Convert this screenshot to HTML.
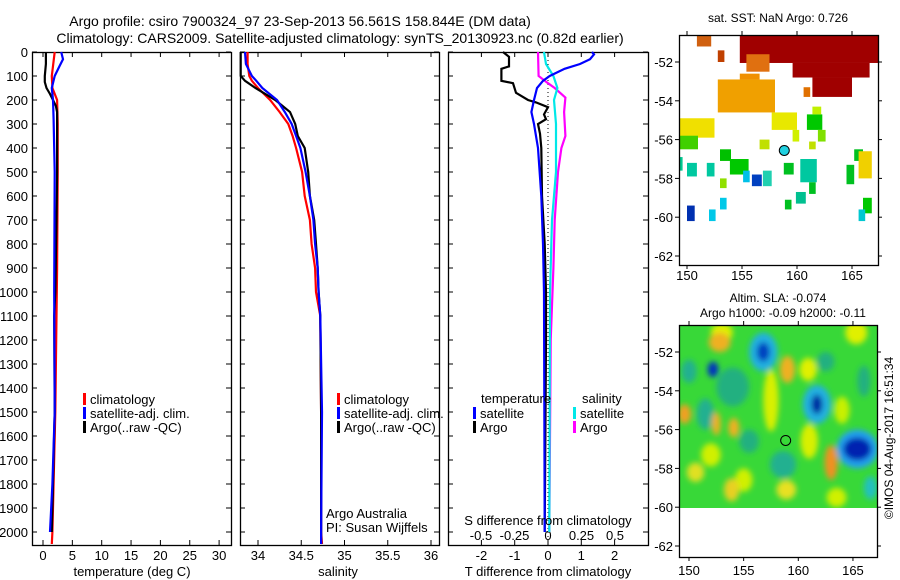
<!DOCTYPE html>
<html><head><meta charset="utf-8">
<style>
html,body{margin:0;padding:0;background:#fff;}
svg{display:block;font-family:"Liberation Sans",sans-serif;}
text{fill:#000;}
</style></head>
<body>
<svg id="chart" width="900" height="580" viewBox="0 0 900 580" xmlns="http://www.w3.org/2000/svg">
<defs>
<filter id="blur" x="-50%" y="-50%" width="200%" height="200%"><feGaussianBlur stdDeviation="3"/></filter>
<clipPath id="slaclip"><rect x="679" y="325" width="198" height="183"/></clipPath>
<clipPath id="sstclip"><rect x="679" y="35" width="199" height="230"/></clipPath>
</defs>
<text x="300" y="26" font-size="14" text-anchor="middle">Argo profile: csiro 7900324_97 23-Sep-2013 56.561S 158.844E (DM data)</text>
<text x="340" y="43" font-size="14" text-anchor="middle">Climatology: CARS2009. Satellite-adjusted climatology: synTS_20130923.nc (0.82d earlier)</text>
<g id="g"></g>
</svg>
<script>
// ---- profile data (depth in m) ----
const depthsArgoT = [0,50,100,125,150,175,200,225,250,300,400,500,700,1000,1100,1500,2000];
const argoTemp    = [0.5,0.5,0.3,0.3,0.6,1.2,1.7,2.2,2.4,2.4,2.4,2.4,2.3,2.1,1.9,2.0,1.5];
const depthsClimT = [0,100,150,200,300,500,900,1500,2000,2050];
const climTemp    = [2.0,1.5,1.6,2.4,2.5,2.5,2.4,2.1,1.6,1.5];
const depthsSatT  = [0,30,60,100,150,200,280,500,1000,1500,1800,2000];
const satTemp     = [3.1,3.4,2.8,2.0,1.5,1.7,1.8,2.0,1.9,2.0,1.6,1.2];

const depthsS  = [0,50,100,120,150,200,250,300,350,400,500,600,700,800,900,1000,1100,1500,2000,2050];
const argoSal  = [33.80,33.80,33.80,33.85,33.97,34.20,34.37,34.43,34.46,34.54,34.58,34.60,34.65,34.67,34.69,34.70,34.72,34.73,34.73,34.73];
const climSal  = [33.88,33.88,33.90,33.93,34.00,34.14,34.25,34.35,34.40,34.44,34.51,34.54,34.60,34.62,34.66,34.67,34.72,34.73,34.73,34.74];
const satSal   = [33.85,33.86,33.93,33.98,34.05,34.22,34.31,34.39,34.44,34.49,34.55,34.60,34.64,34.66,34.69,34.70,34.72,34.74,34.73,34.73];

const depthsDT = [0,20,60,70,120,130,170,200,210,230,260,280,300,340,400,600,800,1000,1200,2000];
const argoDT   = [-1.35,-1.17,-1.17,-1.4,-1.4,-1.05,-0.96,-0.6,-0.36,0,-0.12,-0.06,-0.3,-0.24,-0.2,-0.18,-0.1,-0.06,-0.06,-0.1];
const depthsSatDT = [0,10,30,50,70,100,120,150,200,250,300,400,600,800,1000,2000];
const satDT       = [1.32,1.38,1.26,0.96,0.5,0.05,-0.15,-0.33,-0.42,-0.5,-0.42,-0.3,-0.2,-0.15,-0.12,-0.1];
const depthsDS = [0,100,130,150,190,250,350,400,500,700,900,1200,2000];
const argoDS   = [-0.075,-0.07,0,0.05,0.13,0.12,0.13,0.10,0.075,0.05,0.04,0.02,0.01];
const depthsSatDS = [0,50,100,150,200,300,500,700,1000,2000];
const satDS       = [-0.03,-0.015,0.04,0.07,0.045,0.06,0.06,0.03,0.015,0.01];

const depthTicks = [0,100,200,300,400,500,600,700,800,900,1000,1100,1200,1300,1400,1500,1600,1700,1800,1900,2000];
const tempTicks = [0,5,10,15,20,25,30];
const salTicks = [34,34.5,35,35.5,36];
const salTickLabels = ["34","34.5","35","35.5","36"];
const dtTicks = [-2,-1,0,1,2];
const dsTicks = [-0.5,-0.25,0,0.25,0.5];
const lonTicks = [150,155,160,165];
const latTicks = [-52,-54,-56,-58,-60,-62];

// SST patches
const sstLon0 = [154.8,159.6,161.4,150.9,152.8,152.8,154.8,155.4,157.7,149.2,149.3,160.9,153.0,153.9,150.0,151.8,156.9,160.3,159.9,155.9,155.1,153.0,152.0,150.0,158.8,161.1,158.9,165.2,164.5,165.6,166.0,165.6,156.6,159.6,161.1,161.4,161.9,153.0,160.6,149.27];
const sstLon1 = [167.4,166.6,165.0,152.2,153.4,158.0,156.6,157.5,160.0,152.5,151.0,162.3,154.0,155.6,150.9,152.5,157.7,161.8,160.8,156.8,155.7,153.6,152.6,150.7,159.7,161.7,159.5,166.0,165.2,166.8,166.8,166.2,157.5,160.2,161.7,162.2,162.6,153.6,161.2,149.6];
const sstLat0 = [-50.6,-52.05,-52.8,-50.6,-51.4,-52.9,-52.6,-51.6,-54.6,-54.9,-55.8,-54.7,-56.5,-57.0,-57.2,-57.2,-57.6,-57.0,-58.7,-57.8,-57.6,-59.0,-59.6,-59.4,-57.2,-58.2,-59.1,-56.5,-57.3,-56.6,-59.0,-59.6,-56.0,-55.5,-56.1,-54.3,-55.5,-58.0,-53.3,-56.9];
const sstLat1 = [-52.05,-52.8,-53.8,-51.2,-52.0,-54.6,-52.9,-52.5,-55.5,-55.9,-56.5,-55.5,-57.1,-57.8,-57.9,-57.9,-58.4,-58.2,-59.3,-58.4,-58.2,-59.6,-60.2,-60.2,-57.8,-58.8,-59.6,-57.1,-58.3,-58.0,-59.8,-60.2,-56.5,-56.1,-56.5,-54.7,-56.1,-58.5,-53.8,-57.6];
const sstCol  = ["#a00000","#a00000","#a00000","#d06010","#c04000","#f0a000","#f09000","#e07010","#e8e800","#f0e000","#40d000","#00c800","#00c000","#00c800","#00c8a0","#00c8a0","#20d0b0","#00c8a0","#00c090","#0040c0","#00c0e8","#00c8e8","#00c8e8","#0030b0","#00c020","#00c020","#00c020","#00c020","#00c020","#f0d000","#00c800","#00c8d0","#c0e000","#d0f000","#c0e000","#c0f000","#80e000","#90e000","#e07000","#00c890"];

// SLA blobs
const slaLon = [154.0,151.5,150.0,158.6,157.5,161.0,164.0,152.0,155.0,163.5,153.0,166.0,152.8,159.0,149.6,163.0,152.5,154.1,150.6,153.9,158.9,165.3,160.9,166.6,156.8,156.8,152.2,161.7,161.7,165.4,165.4,155.5,162.5];
const slaLat = [-53.8,-55.2,-53.0,-57.8,-54.5,-56.6,-55.0,-57.3,-58.6,-59.5,-51.0,-53.5,-51.5,-52.9,-55.2,-57.7,-55.7,-55.9,-58.2,-59.1,-59.1,-51.0,-52.9,-59.0,-52.0,-52.0,-52.9,-54.7,-54.7,-57.0,-57.0,-56.6,-52.5];
const slaRLon = [1.5,0.8,0.7,1.2,0.7,0.8,0.7,0.9,0.8,0.9,1.0,0.6,1.0,0.7,0.6,0.6,0.4,0.5,0.8,0.7,0.9,1.0,0.8,0.6,1.3,0.6,0.5,1.3,0.5,1.9,1.3,0.9,0.8];
const slaRLat = [1.0,0.8,0.6,0.7,1.6,0.9,0.7,0.6,0.6,0.5,0.5,0.8,0.5,0.7,0.5,0.9,0.6,0.5,0.5,0.6,0.5,0.6,0.6,0.6,1.0,0.5,0.4,1.0,0.5,1.0,0.6,0.6,0.5];
const slaCol = ["#20b080","#20b090","#20b090","#20b090","#d8f000","#d8f000","#c8f000","#d0f000","#d0f000","#d0f000","#e0f000","#20b080","#f0b020","#f0b020","#f0a020","#f09020","#f0b020","#f0b020","#e0e020","#e8d020","#e8e020","#e0f000","#e0f000","#20c0c0","#20b0e0","#0040c0","#0030c0","#20b0e0","#0020a0","#20a0f0","#0020b0","#20b080","#20b080"];

const argoLon = 158.844, argoLat = -56.561;

const NS = "http://www.w3.org/2000/svg";
const G = document.getElementById('g');
function mk(tag, attrs, parent){const e=document.createElementNS(NS,tag);for(const k in attrs)e.setAttribute(k,attrs[k]);(parent||G).appendChild(e);return e;}
function txt(x,y,s,size,anchor,parent){const t=mk('text',{x:x,y:y,'font-size':size||13,'text-anchor':anchor||'start'},parent);t.textContent=s;return t;}

const yD = d => 52 + d*0.24;
const xT = v => 43 + v*5.87;
const xS = v => 258 + (v-34)*86.5;
const xDT = v => 548 + v*33.3;
const xDS = v => 548 + v*134;
const xLon = v => 687 + (v-150)*11;
const xLon2 = v => 689 + (v-150)*10.93;
const yLat = v => 62 - (v+52)*19.4;
const yLat2 = v => 352 - (v+52)*19.4;

const panels = [{x0:32,x1:231,name:'temperature-panel'},{x0:240,x1:439,name:'salinity-panel'},{x0:448,x1:648,name:'difference-panel'}];
panels.forEach((p,i)=>{
  const r = mk('rect',{x:p.x0+0.5,y:52.5,width:p.x1-p.x0,height:493,fill:'none',stroke:'#000','stroke-width':1.3});
  
  
  depthTicks.forEach(d=>{
    mk('line',{x1:p.x0,x2:p.x0+5,y1:yD(d),y2:yD(d),stroke:'#000'});
    mk('line',{x1:p.x1-5,x2:p.x1,y1:yD(d),y2:yD(d),stroke:'#000'});
  });
});
depthTicks.forEach(d=>{
  const t=txt(28,yD(d)+5,String(d),13,'end');
  
  
});
function xticks(vals,f,labels,ly){
  vals.forEach((v,i)=>{
    const x=f(v);
    mk('line',{x1:x,x2:x,y1:52,y2:57,stroke:'#000'});
    mk('line',{x1:x,x2:x,y1:540,y2:545,stroke:'#000'});
    if(labels){const t=txt(x,ly,labels[i],13,'middle');
      
      }
  });
}
xticks(tempTicks,xT,tempTicks.map(String),560);
xticks(salTicks,xS,salTickLabels,560);
xticks(dtTicks,xDT,dtTicks.map(String),560);
dsTicks.forEach(v=>{const t=txt(xDS(v),540,String(v),13,'middle');
  
  });

const z=mk('line',{x1:xDT(0),x2:xDT(0),y1:52,y2:545,stroke:'#000','stroke-dasharray':'1,3'});



function prof(ds,vs,fx,col,name){
  const pts=ds.map((d,i)=>fx(vs[i]).toFixed(1)+','+yD(d).toFixed(1)).join(' ');
  const l=mk('polyline',{points:pts,fill:'none',stroke:col,'stroke-width':2.2,'stroke-linejoin':'miter'});
  
  
}
prof(depthsClimT,climTemp,xT,'#ff0000','temp-climatology-line');
prof(depthsArgoT,argoTemp,xT,'#000','temp-argo-line');
prof(depthsSatT,satTemp,xT,'#0000ff','temp-satellite-line');
prof(depthsS,climSal,xS,'#ff0000','sal-climatology-line');
prof(depthsS,argoSal,xS,'#000','sal-argo-line');
prof(depthsS,satSal,xS,'#0000ff','sal-satellite-line');
prof(depthsDS,argoDS,xDS,'#ff00ff','sdiff-argo-line');
prof(depthsSatDS,satDS,xDS,'#00e8e8','sdiff-satellite-line');
prof(depthsDT,argoDT,xDT,'#000','tdiff-argo-line');
prof(depthsSatDT,satDT,xDT,'#0000ff','tdiff-satellite-line');

function legend(x,y,col,label,name){
  mk('rect',{x:x,y:y-10,width:3,height:12,fill:col});
  const t=txt(x+7,y+1,label,13);
  
  
}
legend(83,403,'#ff0000','climatology','legend-climatology');
legend(83,417,'#0000ff','satellite-adj. clim.','legend-satellite');
legend(83,431,'#000','Argo(..raw -QC)','legend-argo');
legend(337,403,'#ff0000','climatology','legend-climatology-2');
legend(337,417,'#0000ff','satellite-adj. clim.','legend-satellite-2');
legend(337,431,'#000','Argo(..raw -QC)','legend-argo-2');
txt(481,403,'temperature',13);
legend(473,417,'#0000ff','satellite','legend-t-satellite');
legend(473,431,'#000','Argo','legend-t-argo');
txt(582,403,'salinity',13);
legend(573,417,'#00e8e8','satellite','legend-s-satellite');
legend(573,431,'#ff00ff','Argo','legend-s-argo');
txt(326,518,'Argo Australia',13);
txt(326,532,'PI: Susan Wijffels',13);
txt(548,525,'S difference from climatology',13,'middle');
txt(132,576,'temperature (deg C)',13,'middle');
txt(338,576,'salinity',13,'middle');
txt(548,576,'T difference from climatology',13,'middle');

// SST map
txt(778,22,'sat. SST: NaN Argo: 0.726',12,'middle');
const sg=mk('g',{'clip-path':'url(#sstclip)'});


sstLon0.forEach((l0,i)=>{
  const x0=xLon(l0),x1=xLon(sstLon1[i]),y0=yLat(sstLat0[i]),y1=yLat(sstLat1[i]);
  const r=mk('rect',{x:x0,y:y0,width:x1-x0,height:y1-y0,fill:sstCol[i]},sg);
  
  
});
const c1=mk('circle',{cx:xLon(argoLon),cy:yLat(argoLat),r:5,fill:'#20d0e0',stroke:'#000','stroke-width':1});


mk('rect',{x:679.5,y:35.5,width:199,height:230,fill:'none',stroke:'#000','stroke-width':1.3});
lonTicks.forEach(v=>{mk('line',{x1:xLon(v),x2:xLon(v),y1:35,y2:31,stroke:'#000'});mk('line',{x1:xLon(v),x2:xLon(v),y1:265,y2:269,stroke:'#000'});
  const t=txt(xLon(v),280,String(v),13,'middle');
  
  });
latTicks.forEach(v=>{mk('line',{x1:675,x2:679,y1:yLat(v),y2:yLat(v),stroke:'#000'});mk('line',{x1:878,x2:882,y1:yLat(v),y2:yLat(v),stroke:'#000'});
  const t=txt(673,yLat(v)+5,String(v),13,'end');
  
  });

// SLA map
txt(778,302,'Altim. SLA: -0.074',12,'middle');
txt(783,317,'Argo h1000: -0.09 h2000: -0.11',12,'middle');
const cg=mk('g',{'clip-path':'url(#slaclip)'});


mk('rect',{x:679,y:325,width:198,height:183,fill:'#38d838'},cg);
const bg=mk('g',{filter:'url(#blur)'},cg);
slaLon.forEach((lo,i)=>{
  const e=mk('ellipse',{cx:xLon2(lo),cy:yLat2(slaLat[i]),rx:slaRLon[i]*10.93,ry:slaRLat[i]*19.4,fill:slaCol[i]},bg);
  
  
});
const c2=mk('circle',{cx:xLon2(argoLon),cy:yLat2(argoLat),r:5,fill:'none',stroke:'#000','stroke-width':1});


mk('rect',{x:679.5,y:325.5,width:198,height:232,fill:'none',stroke:'#000','stroke-width':1.3});
lonTicks.forEach(v=>{mk('line',{x1:xLon2(v),x2:xLon2(v),y1:325,y2:321,stroke:'#000'});mk('line',{x1:xLon2(v),x2:xLon2(v),y1:557,y2:561,stroke:'#000'});
  const t=txt(xLon2(v),575,String(v),13,'middle');
  
  });
latTicks.forEach(v=>{mk('line',{x1:675,x2:679,y1:yLat2(v),y2:yLat2(v),stroke:'#000'});mk('line',{x1:877,x2:881,y1:yLat2(v),y2:yLat2(v),stroke:'#000'});
  const t=txt(673,yLat2(v)+5,String(v),13,'end');
  
  });
const im=txt(0,0,'©IMOS 04-Aug-2017 16:51:34',12,'middle');
im.setAttribute('transform','translate(893,438) rotate(-90)');


</script>
</body></html>
